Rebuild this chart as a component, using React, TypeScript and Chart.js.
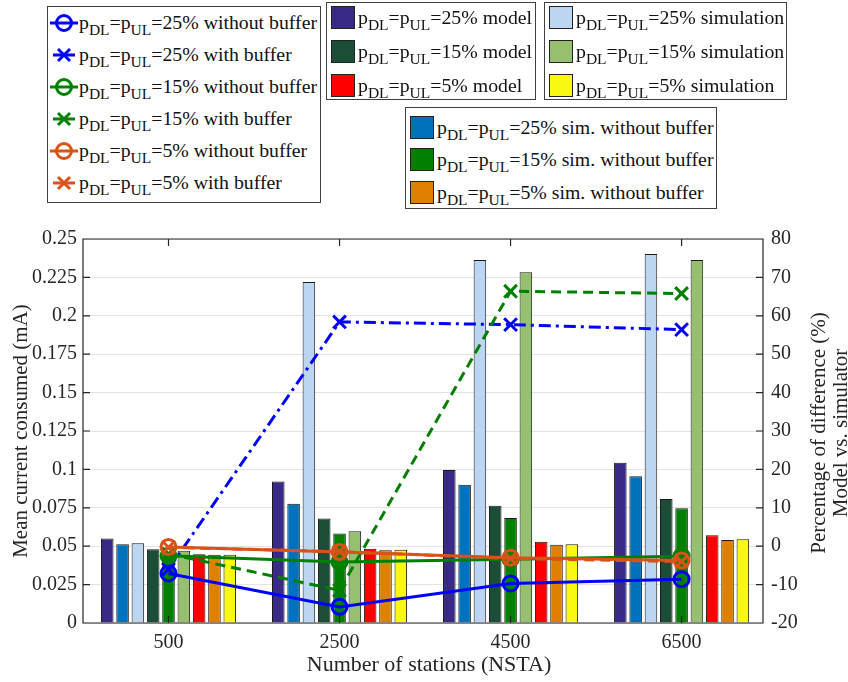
import React, { useEffect, useRef } from 'react';
import { Chart, registerables } from 'chart.js';

Chart.register(...registerables);

// ---------- data ----------
const categories = ['500', '2500', '4500', '6500'];

const model25 = [0.055, 0.0922, 0.0996, 0.1043];
const simNoBuf25 = [0.0513, 0.0777, 0.09, 0.0955];
const sim25 = [0.052, 0.222, 0.2364, 0.2403];
const model15 = [0.048, 0.068, 0.0764, 0.0808];
const simNoBuf15 = [0.046, 0.0582, 0.0684, 0.0747];
const sim15 = [0.047, 0.0597, 0.2284, 0.2364];
const model5 = [0.0448, 0.0483, 0.0529, 0.0571];
const simNoBuf5 = [0.0445, 0.0474, 0.0509, 0.0541];
const sim5 = [0.0445, 0.0477, 0.0513, 0.0545];

const diff25NoBuf = [-7.1, -15.8, -9.7, -8.6];
const diff25Buf = [-6, 58.4, 57.7, 56.4];
const diff15NoBuf = [-2.5, -4.1, -3.4, -2.6];
const diff15Buf = [-2, -11.5, 66.4, 65.8];
const diff5NoBuf = [-0.2, -1.5, -3.0, -3.7];
const diff5Buf = [-0.3, -1.4, -3.2, -4.0];

const leftTickValues = [0, 0.025, 0.05, 0.075, 0.1, 0.125, 0.15, 0.175, 0.2, 0.225, 0.25];
const rightTickValues = [-20, -10, 0, 10, 20, 30, 40, 50, 60, 70, 80];

// ---------- styles ----------
const FONT = '"Liberation Serif", "Times New Roman", serif';
const TXT = '#262626';
const BLUE = '#0000ff';
const GREEN = '#008000';
const ORANGE = '#D95319';

const barSeries = [
  { data: model25, color: '#382a86' },
  { data: simNoBuf25, color: '#0072bd' },
  { data: sim25, color: '#bcd6f1' },
  { data: model15, color: '#1c4d36' },
  { data: simNoBuf15, color: '#008000' },
  { data: sim15, color: '#97bf70' },
  { data: model5, color: '#ff0000' },
  { data: simNoBuf5, color: '#e08000' },
  { data: sim5, color: '#f8f812' },
];

const lineSeries = [
  { data: diff25NoBuf, color: BLUE, dash: [], marker: 'circle', order: 6 },
  { data: diff25Buf, color: BLUE, dash: [12, 5, 3, 5], marker: 'crossRot', order: 5 },
  { data: diff15NoBuf, color: GREEN, dash: [], marker: 'circle', order: 4 },
  { data: diff15Buf, color: GREEN, dash: [10, 6], marker: 'crossRot', order: 3 },
  { data: diff5NoBuf, color: ORANGE, dash: [], marker: 'circle', order: 2 },
  { data: diff5Buf, color: ORANGE, dash: [10, 6], marker: 'crossRot', order: 1 },
];

const framePlugin = {
  id: 'frame',
  afterDatasetsDraw(chart: any) {
    const { ctx, chartArea, scales } = chart;
    const { left, right, top, bottom } = chartArea;
    ctx.save();
    ctx.strokeStyle = TXT;
    ctx.lineWidth = 1.2;
    ctx.beginPath();
    ctx.rect(left, top, right - left, bottom - top);
    const T = 7;
    scales.y.ticks.forEach((t: any) => {
      const p = scales.y.getPixelForValue(t.value);
      ctx.moveTo(left, p);
      ctx.lineTo(left + T, p);
    });
    scales.y1.ticks.forEach((t: any) => {
      const p = scales.y1.getPixelForValue(t.value);
      ctx.moveTo(right, p);
      ctx.lineTo(right - T, p);
    });
    scales.x.ticks.forEach((t: any) => {
      const p = scales.x.getPixelForValue(t.value);
      ctx.moveTo(p, top);
      ctx.lineTo(p, top + T);
      ctx.moveTo(p, bottom);
      ctx.lineTo(p, bottom - T);
    });
    ctx.stroke();
    ctx.restore();
  },
};

// ---------- legend helpers ----------
function Sub({ children }: { children: React.ReactNode }) {
  return <span style={{ fontSize: 15.5, position: 'relative', top: 6 }}>{children}</span>;
}

function LegendText({ pct, suffix }: { pct: string; suffix: string }) {
  return (
    <span style={{ fontFamily: FONT, fontSize: 19.8, color: '#111', whiteSpace: 'nowrap', lineHeight: 'normal' }}>
      p<Sub>DL</Sub>=p<Sub>UL</Sub>={pct}% {suffix}
    </span>
  );
}

const lineLegend = [
  { pct: '25', suffix: 'without buffer', color: BLUE, marker: 'circle' },
  { pct: '25', suffix: 'with buffer', color: BLUE, marker: 'cross' },
  { pct: '15', suffix: 'without buffer', color: GREEN, marker: 'circle' },
  { pct: '15', suffix: 'with buffer', color: GREEN, marker: 'cross' },
  { pct: '5', suffix: 'without buffer', color: ORANGE, marker: 'circle' },
  { pct: '5', suffix: 'with buffer', color: ORANGE, marker: 'cross' },
];

function LineIcon({ color, marker }: { color: string; marker: string }) {
  return (
    <svg width={30} height={22} style={{ display: 'block' }}>
      {marker === 'circle' ? (
        <>
          <line x1={1} y1={11} x2={29} y2={11} stroke={color} strokeWidth={3} />
          <circle cx={15} cy={11} r={7.5} stroke={color} strokeWidth={3} fill="none" />
        </>
      ) : (
        <>
          <line x1={4} y1={11} x2={26} y2={11} stroke={color} strokeWidth={3} />
          <line x1={9} y1={5} x2={21} y2={17} stroke={color} strokeWidth={3} />
          <line x1={9} y1={17} x2={21} y2={5} stroke={color} strokeWidth={3} />
        </>
      )}
    </svg>
  );
}

const boxStyle = (left: number, top: number, width: number, height: number): React.CSSProperties => ({
  position: 'absolute',
  left,
  top,
  width,
  height,
  border: '1px solid #404040',
  background: '#fff',
  boxSizing: 'border-box',
});

function PatchBox({
  left, top, width, height, rows, suffix, centers,
}: {
  left: number; top: number; width: number; height: number;
  rows: { pct: string; color: string }[]; suffix: string; centers: number[];
}) {
  return (
    <div style={boxStyle(left, top, width, height)}>
      {rows.map((r, i) => (
        <div key={i} style={{ position: 'absolute', left: 4, top: centers[i] - 16, height: 32, display: 'flex', alignItems: 'center' }}>
          <div style={{ width: 24, height: 23, background: r.color, border: '1px solid #222', boxSizing: 'border-box', marginRight: 3 }} />
          <LegendText pct={r.pct} suffix={suffix} />
        </div>
      ))}
    </div>
  );
}

export default function App() {
  const canvasRef = useRef<HTMLCanvasElement | null>(null);

  useEffect(() => {
    const canvas = canvasRef.current;
    if (!canvas) return;

    const datasets: any[] = [];
    barSeries.forEach((s) => {
      datasets.push({
        type: 'bar',
        data: s.data.map((v, i) => ({ x: i, y: v })),
        backgroundColor: s.color,
        borderColor: '#1a1a1a',
        borderWidth: 1,
        yAxisID: 'y',
        order: 10,
        categoryPercentage: 0.806,
        barPercentage: 0.82,
      });
    });
    lineSeries.forEach((s) => {
      datasets.push({
        type: 'line',
        data: s.data.map((v, i) => ({ x: i, y: v })),
        borderColor: s.color,
        backgroundColor: 'transparent',
        borderWidth: 3,
        borderDash: s.dash,
        pointStyle: s.marker,
        pointRadius: s.marker === 'circle' ? 7.5 : 9,
        pointBorderWidth: 3,
        pointBorderColor: s.color,
        pointBackgroundColor: 'rgba(0,0,0,0)',
        yAxisID: 'y1',
        order: s.order,
        tension: 0,
      });
    });

    const chart = new Chart(canvas, {
      type: 'bar',
      data: { datasets },
      plugins: [framePlugin],
      options: {
        animation: false,
        responsive: false,
        devicePixelRatio: 1,
        layout: { padding: { top: 239, left: 0, right: 0, bottom: 0 } },
        plugins: { legend: { display: false }, tooltip: { enabled: false } },
        scales: {
          x: {
            type: 'linear',
            offset: false,
            min: -0.5,
            max: 3.476,
            afterBuildTicks: (s: any) => {
              s.ticks = categories.map((_, i) => ({ value: i }));
            },
            afterFit: (s: any) => {
              s.height = 59;
            },
            grid: { display: false, drawTicks: false, offset: false },
            border: { display: false },
            ticks: {
              autoSkip: false,
              maxRotation: 0,
              padding: 8,
              color: TXT,
              font: { family: FONT, size: 20 },
              callback: (v: any) => categories[v] ?? '',
            },
          },
          y: {
            type: 'linear',
            position: 'left',
            min: 0,
            max: 0.25,
            afterBuildTicks: (s: any) => {
              s.ticks = leftTickValues.map((v) => ({ value: v }));
            },
            afterFit: (s: any) => {
              s.width = 83;
            },
            grid: { color: '#e3e3e3', lineWidth: 1, drawTicks: false },
            border: { display: false },
            ticks: {
              padding: 6,
              color: TXT,
              font: { family: FONT, size: 20 },
              callback: (v: any) => String(v),
            },
            title: {
              display: true,
              text: 'Mean current consumed (mA)',
              color: TXT,
              font: { family: FONT, size: 21 },
              padding: { top: 9, bottom: 0 },
            },
          },
          y1: {
            type: 'linear',
            position: 'right',
            min: -20,
            max: 80,
            afterBuildTicks: (s: any) => {
              s.ticks = rightTickValues.map((v) => ({ value: v }));
            },
            afterFit: (s: any) => {
              s.width = 85;
            },
            grid: { display: false, drawTicks: false },
            border: { display: false },
            ticks: {
              padding: 8,
              color: TXT,
              font: { family: FONT, size: 20 },
              callback: (v: any) => String(v),
            },
          },
        },
      } as any,
    } as any);

    return () => {
      chart.destroy();
    };
  }, []);

  return (
    <div style={{ position: 'absolute', left: 0, top: 0, width: 848, height: 682, background: '#fff', overflow: 'hidden' }}>
      <canvas ref={canvasRef} width={848} height={682} style={{ position: 'absolute', left: 0, top: 0, width: 848, height: 682 }} />

      {/* x axis title */}
      <div
        style={{
          position: 'absolute',
          left: 429 - 200,
          top: 664 - 13,
          width: 400,
          height: 26,
          textAlign: 'center',
          fontFamily: FONT,
          fontSize: 22,
          lineHeight: '26px',
          color: TXT,
          whiteSpace: 'nowrap',
        }}
      >
        Number of stations (NSTA)
      </div>

      {/* right axis title */}
      <div
        style={{
          position: 'absolute',
          left: 829 - 200,
          top: 433 - 22,
          width: 400,
          height: 44,
          transform: 'rotate(-90deg)',
          textAlign: 'center',
          fontFamily: FONT,
          fontSize: 21,
          lineHeight: '22px',
          color: TXT,
          whiteSpace: 'nowrap',
        }}
      >
        <div>Percentage of difference (%)</div>
        <div>Model vs. simulator</div>
      </div>

      {/* line legend */}
      <div style={boxStyle(47, 6, 274, 197)}>
        {lineLegend.map((r, i) => (
          <div key={i} style={{ position: 'absolute', left: 1, top: 15.5 + 32 * i - 16, height: 32, display: 'flex', alignItems: 'center' }}>
            <LineIcon color={r.color} marker={r.marker} />
            <LegendText pct={r.pct} suffix={r.suffix} />
          </div>
        ))}
      </div>

      <PatchBox
        left={326} top={2} width={210} height={98}
        rows={[{ pct: '25', color: '#382a86' }, { pct: '15', color: '#1c4d36' }, { pct: '5', color: '#ff0000' }]}
        suffix="model" centers={[14, 48, 82]}
      />
      <PatchBox
        left={544} top={2} width={243} height={98}
        rows={[{ pct: '25', color: '#bcd6f1' }, { pct: '15', color: '#97bf70' }, { pct: '5', color: '#f8f812' }]}
        suffix="simulation" centers={[14, 48, 82]}
      />
      <PatchBox
        left={405} top={107} width={312} height={102}
        rows={[{ pct: '25', color: '#0072bd' }, { pct: '15', color: '#008000' }, { pct: '5', color: '#e08000' }]}
        suffix="sim. without buffer" centers={[19, 51, 84]}
      />
    </div>
  );
}
